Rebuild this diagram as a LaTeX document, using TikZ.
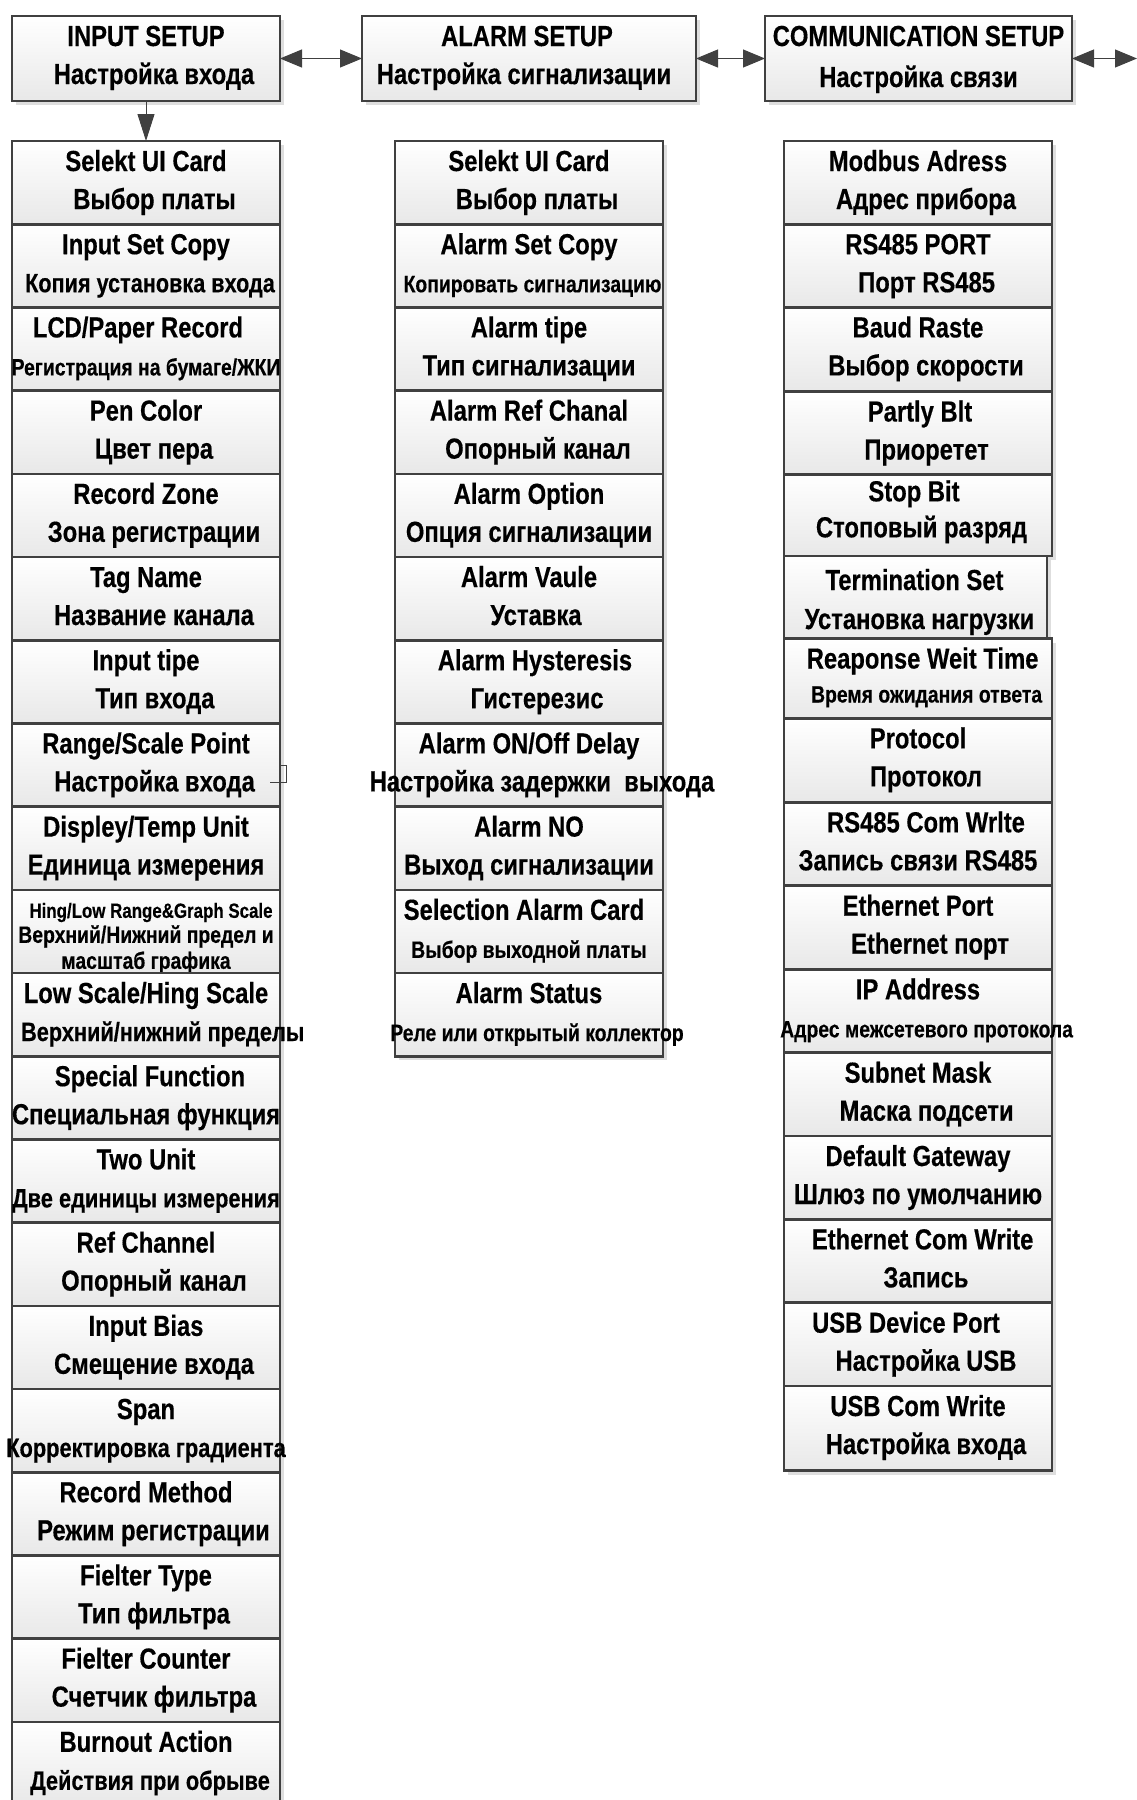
\documentclass[tikz,border=0pt]{standalone}
\usepackage{fontspec}
\setmainfont{Liberation Sans}[FakeStretch=0.82, BoldFeatures={FakeBold=0.4}]
\usetikzlibrary{shadows,arrows.meta}
\definecolor{bdr}{HTML}{404040}
\newcommand\fs[1]{\fontsize{#1}{#1}\selectfont}
\tikzset{
  cell/.style={draw=bdr, line width=2.6pt, top color=white, bottom color=black!9,
    outer sep=0pt, inner sep=0pt, minimum width=268pt,
    drop shadow={shadow xshift=4pt, shadow yshift=-4pt, fill=black!13, opacity=1}},
  lbl/.style={anchor=base, inner sep=0pt, font=\bfseries\fs{29}},
  link/.style={draw=bdr, line width=1pt,
    {Triangle[length=22pt,width=18pt]}-{Triangle[length=22pt,width=18pt]}},
  down/.style={draw=bdr, line width=1pt, -{Triangle[length=27pt,width=17pt]}},
}
% name, x-left, top, bottom, line1, dx1, line2, dx2
\newcommand\cell[8]{%
  \node[cell, minimum height={#4-#3}, anchor=north west] (#1) at (#2,#3) {};
  \node[lbl] (#1-a) at ([xshift=#6pt, yshift=-30pt]#1.north) {#5};
  \node[lbl] (#1-b) at ([xshift=#8pt, yshift=-68pt]#1.north) {#7};}
\newcommand\sm{\fs{23.6}}
\begin{document}
\begin{tikzpicture}[x=1pt, y=-1pt]
\useasboundingbox (0,0) rectangle (1137,1800);

% headers
\node[cell, minimum width=268pt, minimum height=85pt, anchor=north west] (hin) at (12,16) {};
\node[lbl] (hin-a) at ([yshift=-30pt]hin.north) {INPUT SETUP};
\node[lbl] (hin-b) at ([xshift=8pt, yshift=-68pt]hin.north) {Настройка входа};
\node[cell, minimum width=334pt, minimum height=85pt, anchor=north west] (hal) at (362,16) {};
\node[lbl] (hal-a) at ([xshift=-2pt, yshift=-30pt]hal.north) {ALARM SETUP};
\node[lbl] (hal-b) at ([xshift=-5pt, yshift=-68pt]hal.north) {Настройка сигнализации};
\node[cell, minimum width=307pt, minimum height=85pt, anchor=north west] (hco) at (765,16) {};
\node[lbl] (hco-a) at ([yshift=-30pt]hco.north) {COMMUNICATION SETUP};
\node[lbl] (hco-b) at ([yshift=-71pt]hco.north) {Настройка связи};
\coordinate (edge) at (1137,58.5);

% column 1
\cell{i1}{12}{141}{224.2}{Selekt UI Card}{0}{Выбор платы}{8.6}
\cell{i2}{12}{224.2}{307.4}{Input Set Copy}{0}{{\fs{26.4}Копия установка входа}}{4}
\cell{i3}{12}{307.4}{390.6}{LCD/Paper Record}{-8}{{\sm Регистрация на бумаге/ЖКИ}}{0}
\cell{i4}{12}{390.6}{473.8}{Pen Color}{0}{Цвет пера}{8}
\cell{i5}{12}{473.8}{557}{Record Zone}{0}{Зона регистрации}{8}
\cell{i6}{12}{557}{640.2}{Tag Name}{0}{Название канала}{8}
\cell{i7}{12}{640.2}{723.4}{Input tipe}{0}{Тип входа}{9}
\cell{i8}{12}{723.4}{806.6}{Range/Scale Point}{0}{Настройка входа}{8.6}
\cell{i9}{12}{806.6}{889.8}{Displey/Temp Unit}{0}{Единица измерения}{0}
\node[cell, minimum height=83.2pt, anchor=north west] (i10) at (12,889.8) {};
\node[lbl, font=\bfseries\fs{20.6}] (i10-a) at ([xshift=5pt, yshift=-28pt]i10.north) {Hing/Low Range\&Graph Scale};
\node[lbl, font=\bfseries\sm] (i10-b) at ([yshift=-53pt]i10.north) {Верхний/Нижний предел и};
\node[lbl, font=\bfseries\sm] (i10-c) at ([yshift=-79pt]i10.north) {масштаб графика};
\cell{i11}{12}{973}{1056.2}{Low Scale/Hing Scale}{0}{{\fs{26.5}Верхний/нижний пределы}}{16.7}
\cell{i12}{12}{1056.2}{1139.4}{Special Function}{4}{Специальная функция}{0}
\cell{i13}{12}{1139.4}{1222.6}{Two Unit}{0}{{\fs{26.6}Две единицы измерения}}{0}
\cell{i14}{12}{1222.6}{1305.8}{Ref Channel}{0}{Опорный канал}{8}
\cell{i15}{12}{1305.8}{1389}{Input Bias}{0}{Смещение входа}{8}
\cell{i16}{12}{1389}{1472.2}{Span}{0}{{\fs{26.6}Корректировка градиента}}{0}
\cell{i17}{12}{1472.2}{1555.4}{Record Method}{0}{Режим регистрации}{7.5}
\cell{i18}{12}{1555.4}{1638.6}{Fielter Type}{0}{Тип фильтра}{8}
\cell{i19}{12}{1638.6}{1721.8}{Fielter Counter}{0}{Счетчик фильтра}{8}
\cell{i20}{12}{1721.8}{1805}{Burnout Action}{0}{{\fs{26.6}Действия при обрыве}}{4}

% column 2
\cell{a1}{395}{141}{224.2}{Selekt UI Card}{0}{Выбор платы}{8}
\cell{a2}{395}{224.2}{307.4}{Alarm Set Copy}{0}{{\sm Копировать сигнализацию}}{3.5}
\cell{a3}{395}{307.4}{390.6}{Alarm tipe}{0}{Тип сигнализации}{0}
\cell{a4}{395}{390.6}{473.8}{Alarm Ref Chanal}{0}{Опорный канал}{9}
\cell{a5}{395}{473.8}{557}{Alarm Option}{0}{Опция сигнализации}{0}
\cell{a6}{395}{557}{640.2}{Alarm Vaule}{0}{Уставка}{7}
\cell{a7}{395}{640.2}{723.4}{Alarm Hysteresis}{6}{Гистерезис}{8}
\cell{a8}{395}{723.4}{806.6}{Alarm ON/Off Delay}{0}{Настройка задержки\ \ выхода}{13}
\cell{a9}{395}{806.6}{889.8}{Alarm NO}{0}{Выход сигнализации}{0}
\cell{a10}{395}{889.8}{973}{Selection Alarm Card}{-5}{{\sm Выбор выходной платы}}{0}
\cell{a11}{395}{973}{1056.2}{Alarm Status}{0}{{\sm Реле или открытый коллектор}}{8}

% column 3
\cell{c1}{784}{141}{224.2}{Modbus Adress}{0}{Адрес прибора}{8}
\cell{c2}{784}{224.2}{307.4}{RS485 PORT}{0}{Порт RS485}{8.6}
\cell{c3}{784}{307.4}{391.5}{Baud Raste}{0}{Выбор скорости}{8}
\cell{c4}{784}{391.5}{474.3}{Partly Blt}{2}{Приоретет}{8.6}
\node[cell, minimum height=81.7pt, anchor=north west] (c5) at (784,474.3) {};
\node[lbl] (c5-a) at ([xshift=-4pt, yshift=-27pt]c5.north) {Stop Bit};
\node[lbl] (c5-b) at ([xshift=3.5pt, yshift=-63pt]c5.north) {Стоповый разряд};
\node[cell, minimum width=263pt, minimum height=82.5pt, anchor=north west] (c6) at (784,556) {};
\node[lbl] (c6-a) at ([xshift=-1pt, yshift=-34pt]c6.north) {Termination Set};
\node[lbl] (c6-b) at ([xshift=4pt, yshift=-73pt]c6.north) {Установка нагрузки};
\node[cell, minimum height=79.8pt, anchor=north west] (c7) at (784,638.5) {};
\node[lbl] (c7-a) at ([xshift=4.6pt, yshift=-30pt]c7.north) {Reaponse Weit Time};
\node[lbl, font=\bfseries\sm] (c7-b) at ([xshift=8.6pt, yshift=-64pt]c7.north) {Время ожидания ответа};
\cell{c8}{784}{718.3}{802.3}{Protocol}{0}{Протокол}{8}
\cell{c9}{784}{802.3}{885.7}{RS485 Com Wrlte}{8}{Запись связи RS485}{0}
\cell{c10}{784}{885.7}{969.3}{Ethernet Port}{0}{Ethernet порт}{12}
\cell{c11}{784}{969.3}{1052.7}{IP Address}{0}{{\sm Адрес межсетевого протокола}}{8.6}
\cell{c12}{784}{1052.7}{1136}{Subnet Mask}{0}{Маска подсети}{8.6}
\cell{c13}{784}{1136}{1219.4}{Default Gateway}{0}{Шлюз по умолчанию}{0}
\cell{c14}{784}{1219.4}{1302.7}{Ethernet Com Write}{4.6}{Запись}{8}
\cell{c15}{784}{1302.7}{1386}{USB Device Port}{-12}{Настройка USB}{8}
\cell{c16}{784}{1386}{1470.7}{USB Com Write}{0}{Настройка входа}{8}

% connectors
\draw[link] (hin.east) -- (hal.west);
\draw[link] (hal.east) -- (hco.west);
\draw[link] (hco.east) -- (edge);
\draw[down] (hin.south) -- (i1.north);

% small stray mark beside Range/Scale Point
\draw[bdr, line width=1pt] (270,782.5) -- (286,782.5) -- (286,765.5) -- (281,765.5);
\end{tikzpicture}
\end{document}
